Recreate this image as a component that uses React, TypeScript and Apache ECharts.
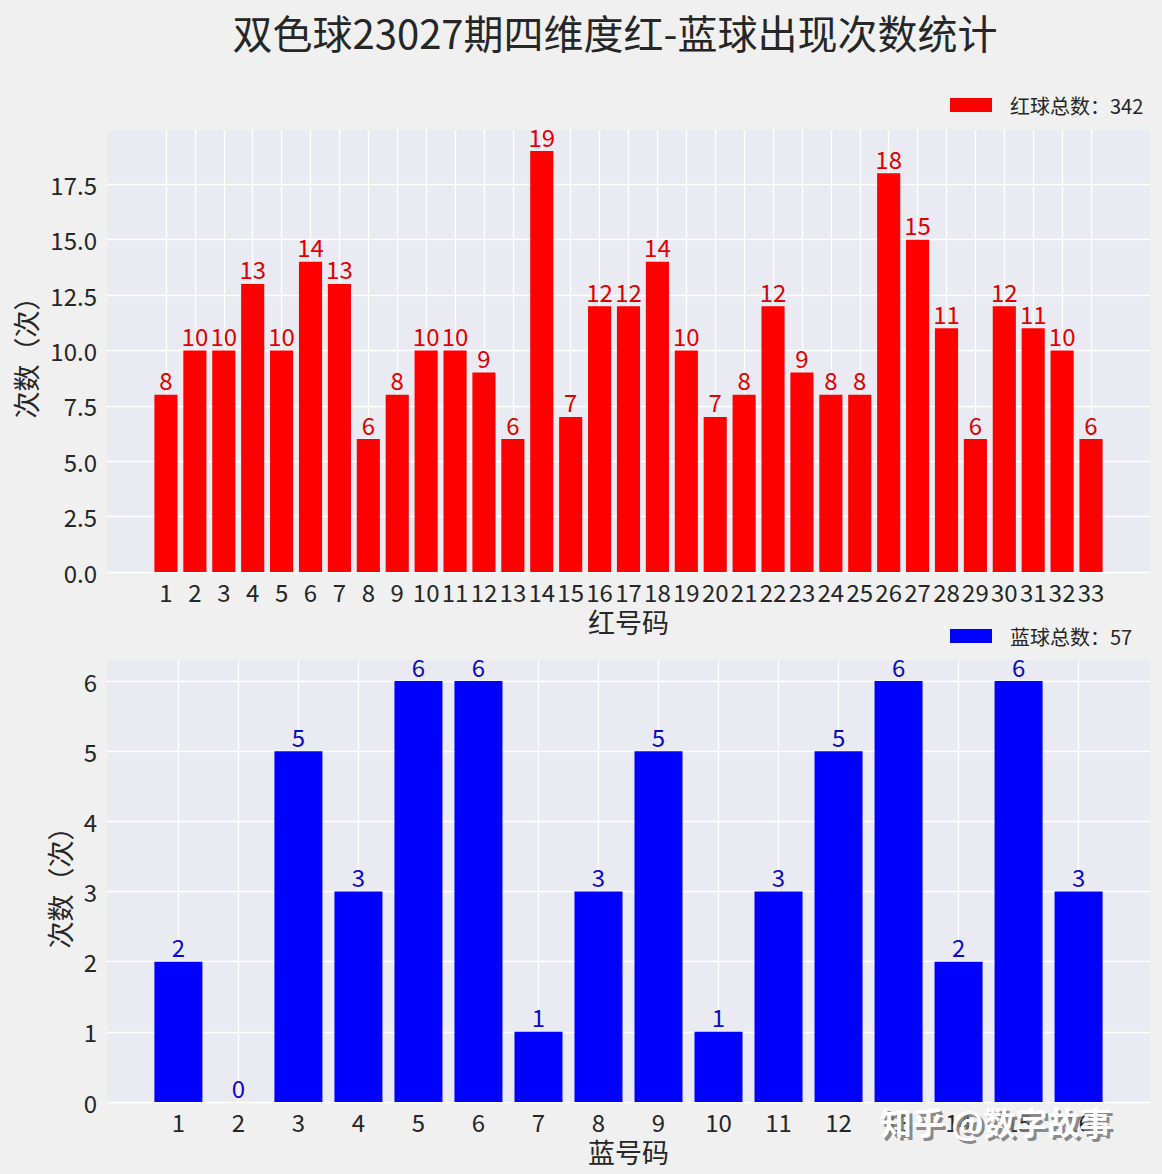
import React, { useEffect, useRef } from "react";
import * as echarts from "echarts";

const redNumbers = Array.from({ length: 33 }, (_, i) => i + 1);
const redCounts = [8, 10, 10, 13, 10, 14, 13, 6, 8, 10, 10, 9, 6, 19, 7, 12, 12, 14, 10, 7, 8, 12, 9, 8, 8, 18, 15, 11, 6, 12, 11, 10, 6];
const blueNumbers = Array.from({ length: 16 }, (_, i) => i + 1);
const blueCounts = [2, 0, 5, 3, 6, 6, 1, 3, 5, 1, 3, 5, 6, 2, 6, 3];
const redYTicks = [0, 2.5, 5, 7.5, 10, 12.5, 15, 17.5];
const blueYTicks = [0, 1, 2, 3, 4, 5, 6];

const TITLE = "双色球23027期四维度红-蓝球出现次数统计";
const FONT = "'Noto Sans CJK SC', 'Noto Sans', sans-serif";

export default function App() {
  const ref = useRef<HTMLDivElement>(null);
  useEffect(() => {
    if (!ref.current) return;
    const chart = echarts.init(ref.current, null, { renderer: "svg" });
    const redSum = redCounts.reduce((a, b) => a + b, 0);
    const blueSum = blueCounts.reduce((a, b) => a + b, 0);
    const redName = `红球总数：${redSum}`;
    const blueName = `蓝球总数：${blueSum}`;

    // matplotlib-like limits: bars width 0.8, 5% margins
    const redMinX = 0.6 - 0.05 * (redNumbers.length - 1 + 0.8);
    const redMaxX = redNumbers.length + 0.4 + 0.05 * (redNumbers.length - 1 + 0.8);
    const blueMinX = 0.6 - 0.05 * (blueNumbers.length - 1 + 0.8);
    const blueMaxX = blueNumbers.length + 0.4 + 0.05 * (blueNumbers.length - 1 + 0.8);
    const redMaxY = Math.max(...redCounts) * 1.05;
    const blueMaxY = Math.max(...blueCounts) * 1.05;

    const plotLeft = 107;
    const plotRight = 12;
    const plotW = 1162 - plotLeft - plotRight;
    const redBarW = (0.8 * plotW) / (redMaxX - redMinX);
    const blueBarW = (0.8 * plotW) / (blueMaxX - blueMinX);

    const axisText = { fontFamily: FONT, fontSize: 24, color: "#262626" };
    const nameText = { fontFamily: FONT, fontSize: 27, color: "#262626" };

    const makeX = (idx: number, min: number, max: number, cats: number[], name: string) => ({
      type: "value",
      gridIndex: idx,
      min,
      max,
      name,
      nameLocation: "middle",
      nameGap: 36,
      nameTextStyle: nameText,
      axisLine: { show: false },
      axisTick: { show: false, customValues: cats },
      axisLabel: { ...axisText, margin: 7, customValues: cats, formatter: (v: number) => String(v) },
      splitLine: { show: true, lineStyle: { color: "#ffffff", width: 1.3 } },
    });
    const makeY = (idx: number, max: number, ticks: number[], dec: number, gap: number) => ({
      type: "value",
      gridIndex: idx,
      min: 0,
      max,
      name: "次数（次）",
      nameLocation: "middle",
      nameRotate: 90,
      nameGap: gap,
      nameTextStyle: nameText,
      axisLine: { show: false },
      axisTick: { show: false, customValues: ticks },
      axisLabel: { ...axisText, margin: 10, customValues: ticks, formatter: (v: number) => v.toFixed(dec) },
      splitLine: { show: true, lineStyle: { color: "#ffffff", width: 1.3 } },
    });

    chart.setOption({
      animation: false,
      backgroundColor: "#f0f0f0",
      title: {
        text: TITLE,
        left: 610,
        textAlign: "center",
        top: 7,
        textStyle: { fontFamily: FONT, fontSize: 40, fontWeight: "normal", color: "#262626" },
      },
      legend: [
        {
          data: [redName],
          left: 950,
          top: 95,
          padding: 0,
          itemWidth: 42,
          itemHeight: 14,
          icon: "rect",
          textStyle: { fontFamily: FONT, fontSize: 20, color: "#262626", padding: [0, 0, 0, 13] },
        },
        {
          data: [blueName],
          left: 950,
          top: 626,
          padding: 0,
          itemWidth: 42,
          itemHeight: 14,
          icon: "rect",
          textStyle: { fontFamily: FONT, fontSize: 20, color: "#262626", padding: [0, 0, 0, 13] },
        },
      ],
      grid: [
        { left: plotLeft, right: plotRight, top: 130, height: 442, show: true, backgroundColor: "#eaeaf2", borderWidth: 0 },
        { left: plotLeft, right: plotRight, top: 660, height: 442, show: true, backgroundColor: "#eaeaf2", borderWidth: 0 },
      ],
      xAxis: [
        makeX(0, redMinX, redMaxX, redNumbers, "红号码"),
        makeX(1, blueMinX, blueMaxX, blueNumbers, "蓝号码"),
      ],
      yAxis: [
        makeY(0, redMaxY, redYTicks, 1, 66),
        makeY(1, blueMaxY, blueYTicks, 0, 24),
      ],
      series: [
        {
          name: redName,
          type: "bar",
          xAxisIndex: 0,
          yAxisIndex: 0,
          barWidth: redBarW,
          itemStyle: { color: "#ff0000" },
          label: { show: true, position: "top", distance: 3, fontFamily: FONT, fontSize: 24, color: "#e00000" },
          data: redNumbers.map((n, i) => [n, redCounts[i]]),
        },
        {
          name: blueName,
          type: "bar",
          xAxisIndex: 1,
          yAxisIndex: 1,
          barWidth: blueBarW,
          itemStyle: { color: "#0000ff" },
          label: { show: true, position: "top", distance: 3, fontFamily: FONT, fontSize: 24, color: "#0a0acc" },
          data: blueNumbers.map((n, i) => [n, blueCounts[i]]),
        },
      ],
      graphic: [
        { type: "text", left: 883, top: 1108, z: 100, style: { text: "知乎 @数字故事", fontFamily: FONT, fontSize: 32, fontWeight: "bold", fill: "rgba(120,120,120,0.85)" } },
        { type: "text", left: 880, top: 1105, z: 101, style: { text: "知乎 @数字故事", fontFamily: FONT, fontSize: 32, fontWeight: "bold", fill: "#ffffff" } },
      ],
    });
    return () => chart.dispose();
  }, []);
  return <div ref={ref} style={{ position: "fixed", left: 0, top: 0, width: 1162, height: 1174 }} />;
}
